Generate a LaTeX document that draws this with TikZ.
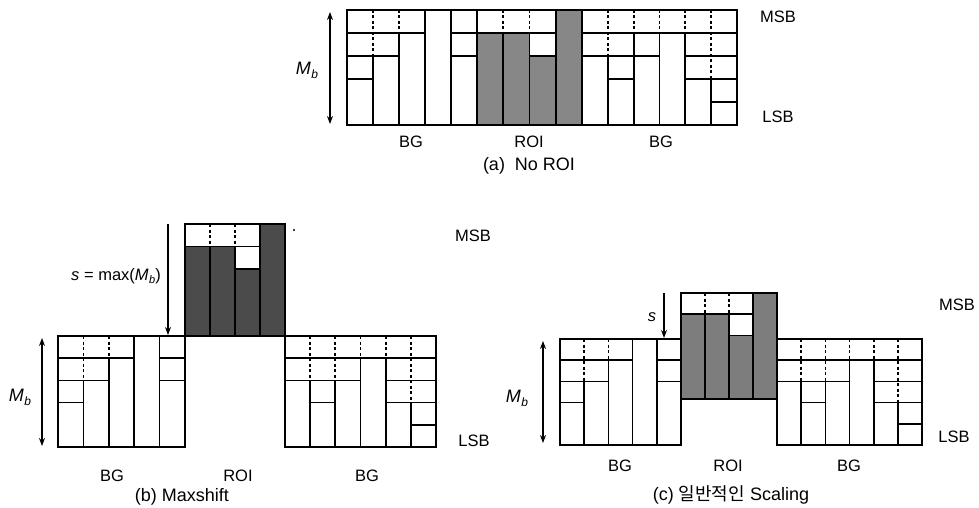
\documentclass[tikz,border=0pt]{standalone}
\usepackage{fontspec}
\setmainfont{Liberation Sans}
\newfontfamily\krfont{Noto Sans CJK KR}
\usetikzlibrary{arrows.meta}
\definecolor{grayA}{RGB}{135,135,135}
\definecolor{grayB}{RGB}{75,75,75}
\definecolor{grayC}{RGB}{125,125,125}
\tikzset{
  gridline/.style={line width=1.7pt, black},
  dashline/.style={line width=1.7pt, black, dash pattern=on 3pt off 2.5pt},
  outline/.style={line width=2pt, black},
  lbl/.style={font=\fontsize{16.5}{18}\selectfont, inner sep=0pt},
  captxt/.style={font=\fontsize{18}{20}\selectfont, inner sep=0pt},
  darrow/.style={line width=1.5pt, {Stealth[length=8pt,width=6pt]}-{Stealth[length=8pt,width=6pt]}},
  sarrow/.style={line width=1.4pt, -{Stealth[length=8pt,width=6pt]}},
}
% #1 x0, #2 y0 (top), #3 col width, #4 row height, #5 ncols, #6 empty-cell counts, #7 fill
\newcommand{\bitblock}[7]{%
  \foreach \i in {1,...,#5}{%
    \pgfmathtruncatemacro{\bbK}{#6[\i-1]}%
    \fill[#7] ({#1+(\i-1)*#3},{#2+\bbK*#4}) rectangle ({#1+\i*#3},{#2+5*#4});
  }%
  \foreach \i in {1,...,#5}{%
    \pgfmathtruncatemacro{\bbK}{#6[\i-1]}%
    \ifnum\bbK>0
      \foreach \j in {1,...,\bbK}{%
        \draw[gridline] ({#1+(\i-1)*#3},{#2+\j*#4}) -- ({#1+\i*#3},{#2+\j*#4});
      }%
    \fi
  }%
  \pgfmathtruncatemacro{\bbN}{#5-1}%
  \foreach \i in {1,...,\bbN}{%
    \pgfmathtruncatemacro{\bbA}{#6[\i-1]}%
    \pgfmathtruncatemacro{\bbB}{#6[\i]}%
    \pgfmathtruncatemacro{\bbM}{min(\bbA,\bbB)}%
    \ifnum\bbM>0
      \draw[dashline] ({#1+\i*#3},#2) -- ({#1+\i*#3},{#2+\bbM*#4});
    \fi
    \draw[gridline] ({#1+\i*#3},{#2+\bbM*#4}) -- ({#1+\i*#3},{#2+5*#4});
  }%
  \draw[outline] (#1,#2) rectangle ({#1+#5*#3},{#2+5*#4});
}
\newcommand{\Mb}{{\fontsize{18}{20}\selectfont\itshape M\kern0.5pt\raisebox{-0.4ex}{\fontsize{12}{13}\selectfont b}}}
\newcommand{\Mbs}{{\itshape M\kern0.5pt\raisebox{-0.4ex}{\fontsize{11}{12}\selectfont b}}}
\begin{document}
\begin{tikzpicture}[x=1pt,y=-1pt]
\useasboundingbox (0,0) rectangle (979,508);
% ---------------- (a) ----------------
\bitblock{347}{10}{25.93}{23}{5}{{3,2,1,0,2}}{white}
\bitblock{477}{10}{26.25}{23}{4}{{1,1,2,0}}{grayA}
\bitblock{582}{10}{25.83}{23}{6}{{2,3,2,1,3,4}}{white}
\draw[gridline] (633.66,33) -- (633.66,56);
\coordinate (aMbTop) at (330,12);
\coordinate (aMbBot) at (330,124);
\draw[darrow] (aMbTop) -- (aMbBot);
\node[lbl] (aMb) at (307,70) {\Mb};
\node[lbl] (aMSB) at (778,17) {MSB};
\node[lbl] (aLSB) at (778,117) {LSB};
\node[lbl] (aBG1) at (411,142) {BG};
\node[lbl] (aROI) at (529,142) {ROI};
\node[lbl] (aBG2) at (661,142) {BG};
\node[captxt] (acap) at (529,166) {(a)\ \ No ROI};
% ---------------- (b) ----------------
\bitblock{58}{336}{25.4}{22.2}{5}{{3,2,1,0,2}}{white}
\bitblock{185}{224}{25}{22.4}{4}{{1,1,2,0}}{grayB}
\bitblock{285}{336}{25.17}{22.2}{6}{{2,3,2,1,3,4}}{white}
\fill (294,230) circle (1.2pt);
\coordinate (bsTop) at (168,224);
\coordinate (bsBot) at (168,335);
\draw[sarrow] (bsTop) -- (bsBot);
\node[lbl, anchor=east] (bs) at (161,276) {{\itshape s} = max(\Mbs)};
\coordinate (bMbTop) at (42,338);
\coordinate (bMbBot) at (42,446);
\draw[darrow] (bMbTop) -- (bMbBot);
\node[lbl] (bMb) at (20,397) {\Mb};
\node[lbl] (bMSB) at (473,236) {MSB};
\node[lbl] (bLSB) at (474,441) {LSB};
\node[lbl] (bBG1) at (112,476) {BG};
\node[lbl] (bROI) at (238,476) {ROI};
\node[lbl] (bBG2) at (367,476) {BG};
\node[captxt] (bcap) at (182,497) {(b) Maxshift};
% ---------------- (c) ----------------
\bitblock{560}{339}{24.2}{21.2}{5}{{3,2,1,0,2}}{white}
\bitblock{681}{293}{24}{21.2}{4}{{1,1,2,0}}{grayC}
\bitblock{777}{339}{24.17}{21.2}{6}{{2,3,2,1,3,4}}{white}
\coordinate (csTop) at (664,293);
\coordinate (csBot) at (664,338);
\draw[sarrow] (csTop) -- (csBot);
\node[lbl] (cs) at (652,317) {\itshape s};
\coordinate (cMbTop) at (543,341);
\coordinate (cMbBot) at (543,443);
\draw[darrow] (cMbTop) -- (cMbBot);
\node[lbl] (cMb) at (517,398) {\Mb};
\node[lbl] (cMSB) at (957,305) {MSB};
\node[lbl] (cLSB) at (954,437) {LSB};
\node[lbl] (cBG1) at (620,466) {BG};
\node[lbl] (cROI) at (728,466) {ROI};
\node[lbl] (cBG2) at (849,466) {BG};
\node[captxt] (ccap) at (731,495) {(c) {\krfont 일반적인} Scaling};
\end{tikzpicture}
\end{document}
